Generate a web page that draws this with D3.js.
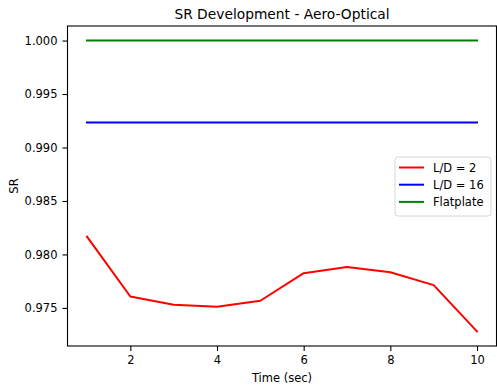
<!DOCTYPE html>
<html><head><meta charset="utf-8">
<script src="https://cdn.jsdelivr.net/npm/d3@7"></script>
<style>body{margin:0;background:#fff}svg{display:block}text{font-family:"DejaVu Sans",sans-serif;fill:#000}</style>
</head><body><svg id="c" width="497" height="388"></svg>
<script>
const times = [1,2,3,4,5,6,7,8,9,10];
const ld2 = [0.98166,0.97607,0.97530,0.97512,0.97567,0.97825,0.97882,0.97833,0.97713,0.97280];
const ld16 = times.map(()=>0.99234);
const flat = times.map(()=>1.000);
const seriesNames = ["L/D = 2","L/D = 16","Flatplate"];
const seriesColors = ["#ff0000","#0000ff","#008000"];
const xTicks = [2,4,6,8,10];
const yTicks = [0.975,0.980,0.985,0.990,0.995,1.000];

const svg = d3.select("#c");
const L=67.5,R=496.5,T=26,B=346;
const yMin=d3.min(ld2), yMax=1.0, pad=(yMax-yMin)*0.05;
const x = d3.scaleLinear().domain([0.55,10.45]).range([L,R]);
const y = d3.scaleLinear().domain([yMin-pad,yMax+pad]).range([B,T]);

const data=[ld2,ld16,flat];
const line=d3.line().x((d,i)=>x(times[i])).y(d=>y(d));
data.forEach((s,k)=>{
  svg.append("path").attr("d",line(s)).attr("fill","none").attr("stroke",seriesColors[k]).attr("stroke-width",2).attr("stroke-linejoin","round").attr("stroke-linecap","square");
});

const xa=svg.append("g").attr("transform",`translate(0,${B})`).call(d3.axisBottom(x).tickValues(xTicks).tickSize(5).tickPadding(5).tickFormat(d3.format("d")));
const ya=svg.append("g").attr("transform",`translate(${L},0)`).call(d3.axisLeft(y).tickValues(yTicks).tickSize(5).tickPadding(5).tickFormat(d3.format(".3f")));
[xa,ya].forEach(a=>{a.select(".domain").remove();a.selectAll("text").attr("font-size","11.5px").attr("font-family","DejaVu Sans").attr("fill","#000");a.selectAll("line").attr("stroke","#000").attr("stroke-width",1.1);});
svg.append("rect").attr("x",L).attr("y",T).attr("width",R-L).attr("height",B-T).attr("fill","none").attr("stroke","#000").attr("stroke-width",1.1);

svg.append("text").attr("x",(L+R)/2).attr("y",19).attr("text-anchor","middle").attr("font-size","13.8px").text("SR Development - Aero-Optical");
svg.append("text").attr("x",(L+R)/2).attr("y",382).attr("text-anchor","middle").attr("font-size","11.5px").text("Time (sec)");
svg.append("text").attr("transform",`translate(18,${(T+B)/2}) rotate(-90)`).attr("text-anchor","middle").attr("font-size","11.5px").text("SR");

const lg=svg.append("g");
lg.append("rect").attr("x",395).attr("y",157).attr("width",96).attr("height",59).attr("rx",3).attr("fill","#fff").attr("fill-opacity",0.8).attr("stroke","#d6d6d6").attr("stroke-width",1);
seriesNames.forEach((n,k)=>{
  const yy=167.5+k*17.2;
  lg.append("line").attr("x1",399).attr("x2",424).attr("y1",yy).attr("y2",yy).attr("stroke",seriesColors[k]).attr("stroke-width",2);
  lg.append("text").attr("x",433).attr("y",yy+4).attr("font-size","11.5px").text(n);
});
</script></body></html>
